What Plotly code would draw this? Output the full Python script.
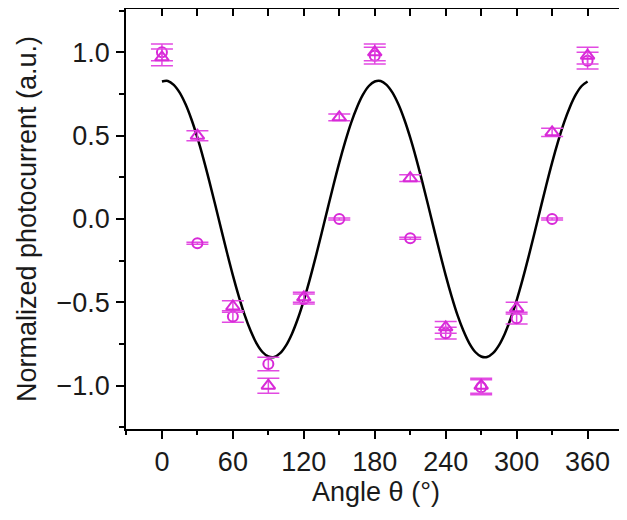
import plotly.graph_objects as go

# ---- data ----
angles = [0, 30, 60, 90, 120, 150, 180, 210, 240, 270, 300, 330, 360]
circle_vals = [1.00, -0.145, -0.585, -0.87, -0.48, 0.00, 0.98, -0.115, -0.685, -1.01, -0.595, 0.00, 0.95]
circle_err = [0.05, 0.006, 0.035, 0.04, 0.03, 0.006, 0.05, 0.006, 0.035, 0.045, 0.035, 0.006, 0.05]
tri_vals = [0.97, 0.50, -0.525, -1.00, -0.47, 0.61, 1.00, 0.245, -0.65, -1.00, -0.535, 0.52, 0.98]
tri_err = [0.05, 0.03, 0.035, 0.045, 0.03, 0.02, 0.05, 0.02, 0.035, 0.045, 0.035, 0.025, 0.05]

# fitted curve, read every 5 degrees
fit_angles = list(range(0, 361, 5))
fit_half = [0.825, 0.828, 0.805, 0.758, 0.688, 0.597, 0.488, 0.364, 0.229, 0.087,
            -0.058, -0.201, -0.338, -0.464, -0.577, -0.671, -0.746, -0.798, -0.825,
            -0.828, -0.805, -0.758, -0.688, -0.597, -0.488, -0.364, -0.229, -0.087,
            0.058, 0.201, 0.338, 0.464, 0.577, 0.671, 0.746, 0.798]
fit_vals = fit_half + fit_half + [0.825]

x_ticks = [0, 60, 120, 180, 240, 300, 360]
y_ticks = [-1.0, -0.5, 0.0, 0.5, 1.0]

MAG = "#d82ad8"
ERRC = "#e24ae2"
FONT = "Liberation Sans, Arial, sans-serif"
FS = 27

fig = go.Figure()

fig.add_trace(go.Scatter(
    x=fit_angles, y=fit_vals, mode="lines", line=dict(color="black", width=2.5, shape="spline"),
    hoverinfo="skip", showlegend=False))

fig.add_trace(go.Scatter(
    x=angles, y=circle_vals, mode="markers",
    marker=dict(symbol="circle-open", size=10, color=MAG, line=dict(width=2, color=MAG)),
    error_y=dict(type="data", array=circle_err, visible=True, color=ERRC, thickness=1.5, width=11),
    showlegend=False))

fig.add_trace(go.Scatter(
    x=angles, y=tri_vals, mode="markers",
    marker=dict(symbol="triangle-up-open", size=12, color=MAG, line=dict(width=2, color=MAG)),
    error_y=dict(type="data", array=tri_err, visible=True, color=ERRC, thickness=1.5, width=11),
    showlegend=False))

# invisible trace so the mirrored axes are drawn
fig.add_trace(go.Scatter(x=[0], y=[0], xaxis="x2", yaxis="y2", mode="markers",
                         marker=dict(opacity=0), showlegend=False, hoverinfo="skip"))

XR = [-30.4, 392.5]
YR = [-1.26, 1.26]

fig.update_layout(
    width=619, height=504,
    margin=dict(l=118, r=1, t=1, b=83, autoexpand=False),
    paper_bgcolor="white", plot_bgcolor="white",
    font=dict(family=FONT, size=FS, color="#1a1a1a"),
    xaxis=dict(
        range=XR, showgrid=False, zeroline=False, automargin=False,
        showline=True, linecolor="black", linewidth=1.5,
        ticks="outside", tickvals=x_ticks, ticklen=8, tickwidth=1.5, tickcolor="black",
        minor=dict(ticks="outside", tick0=0, dtick=30, ticklen=4, tickwidth=1.5, tickcolor="black"),
        tickfont=dict(size=FS),
        title=dict(text="Angle θ (°)", font=dict(size=FS), standoff=4),
    ),
    yaxis=dict(
        range=YR, showgrid=False, zeroline=False, automargin=False,
        showline=True, linecolor="black", linewidth=1.5,
        ticks="outside", tickvals=y_ticks, tickformat=".1f", ticklen=8, tickwidth=1.5, tickcolor="black",
        minor=dict(ticks="outside", tick0=0, dtick=0.25, ticklen=5, tickwidth=1.5, tickcolor="black"),
        tickfont=dict(size=FS), ticklabelstandoff=1,
        title=dict(text="Normalized photocurrent (a.u.)", font=dict(size=FS), standoff=12),
    ),
    xaxis2=dict(
        range=XR, overlaying="x", side="top", showgrid=False, zeroline=False,
        showline=True, linecolor="black", linewidth=1.5,
        ticks="inside", tick0=0, dtick=30, ticklen=7, tickwidth=1.5, tickcolor="black",
        showticklabels=False,
    ),
    yaxis2=dict(
        range=YR, overlaying="y", side="right", showgrid=False, zeroline=False,
        showline=False,
        ticks="inside", tickvals=y_ticks, ticklen=7, tickwidth=1.5, tickcolor="black",
        minor=dict(ticks="inside", tick0=0, dtick=0.25, ticklen=3, tickwidth=1.5, tickcolor="black"),
        showticklabels=False,
    ),
)

fig.write_html("out.html")
